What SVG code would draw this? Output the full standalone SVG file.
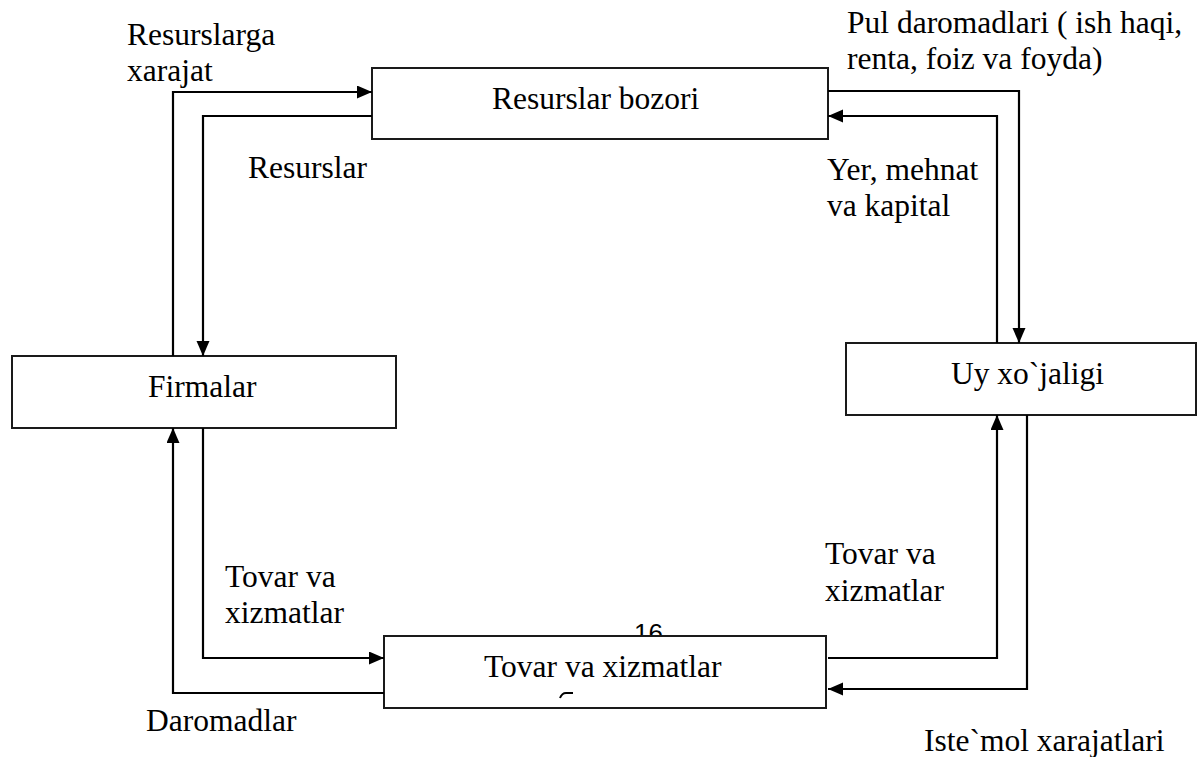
<svg xmlns="http://www.w3.org/2000/svg" width="1198" height="757" viewBox="0 0 1198 757">
<style>
.box{fill:#fff;stroke:#1a1a1a;stroke-width:2}
.t{font-family:"Liberation Serif","Times New Roman",serif;font-size:31.5px;fill:#000}
.c{fill:none;stroke:#000;stroke-width:2.2}
.pg{font-family:"Liberation Sans",Arial,sans-serif;font-size:26px;fill:#000}
</style>
<defs>
<marker id="ah" markerUnits="userSpaceOnUse" markerWidth="16" markerHeight="14" refX="15" refY="6.5" orient="auto">
<path d="M0,0 L15,6.5 L0,13 z" fill="#000"/>
</marker>
</defs>
<rect width="1198" height="757" fill="#fff"/>
<text class="pg" x="634" y="642">16</text>
<g id="resurslar-bozori">
<rect class="box" x="372" y="68" width="456" height="71"/>
<text class="t" x="492" y="109">Resurslar bozori</text>
</g>
<g id="firmalar">
<rect class="box" x="12" y="356" width="384" height="72"/>
<text class="t" x="148" y="397">Firmalar</text>
</g>
<g id="uy-xojaligi">
<rect class="box" x="846" y="343" width="350" height="72"/>
<text class="t" x="951" y="384">Uy xo`jaligi</text>
</g>
<g id="tovar-bozori">
<rect class="box" x="384" y="636" width="442" height="72"/>
<text class="t" x="484" y="677">Tovar va xizmatlar</text>
<path d="M560,698 Q562,693 566,693 L573,693" fill="none" stroke="#000" stroke-width="2"/>
</g>
<g id="connectors">
<polyline class="c" points="173,356 173,92 372,92" marker-end="url(#ah)"/>
<polyline class="c" points="372,116 203,116 203,356" marker-end="url(#ah)"/>
<polyline class="c" points="828,91 1019,91 1019,343" marker-end="url(#ah)"/>
<polyline class="c" points="997,343 997,116 828,116" marker-end="url(#ah)"/>
<polyline class="c" points="828,658 997,658 997,415" marker-end="url(#ah)"/>
<polyline class="c" points="1027,415 1027,689 828,689" marker-end="url(#ah)"/>
<polyline class="c" points="203,428 203,658 384,658" marker-end="url(#ah)"/>
<polyline class="c" points="384,693 173,693 173,428" marker-end="url(#ah)"/>
</g>
<g id="labels">
<text class="t" x="127" y="45">Resurslarga</text>
<text class="t" x="127" y="81">xarajat</text>
<text class="t" x="248" y="178">Resurslar</text>
<text class="t" x="847" y="33">Pul daromadlari ( ish haqi,</text>
<text class="t" x="847" y="69">renta, foiz va foyda)</text>
<text class="t" x="827" y="180">Yer, mehnat</text>
<text class="t" x="827" y="216">va kapital</text>
<text class="t" x="225" y="587">Tovar va</text>
<text class="t" x="225" y="623">xizmatlar</text>
<text class="t" x="825" y="564">Tovar va</text>
<text class="t" x="825" y="601">xizmatlar</text>
<text class="t" x="146" y="731">Daromadlar</text>
<text class="t" x="924" y="751">Iste`mol xarajatlari</text>
</g>
</svg>
